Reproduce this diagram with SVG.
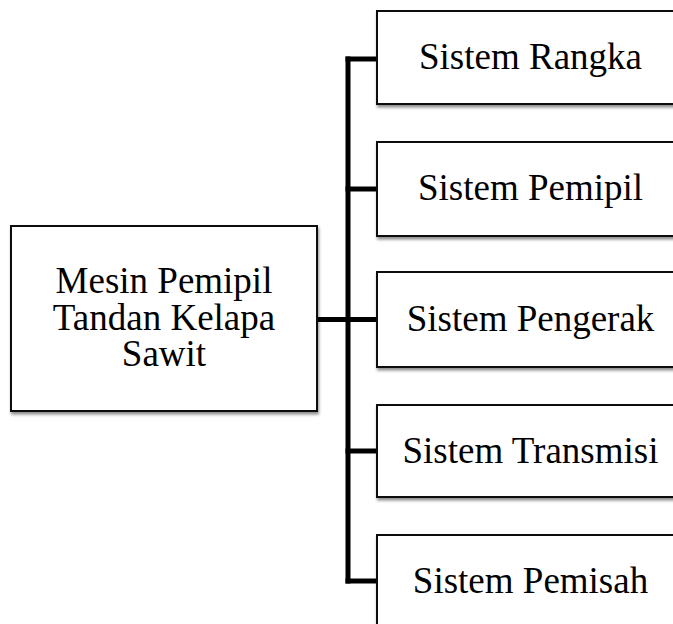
<svg xmlns="http://www.w3.org/2000/svg" width="673" height="624" viewBox="0 0 673 624">
<defs>
<filter id="sh" x="-10%" y="-10%" width="130%" height="130%">
<feDropShadow dx="1" dy="2.5" stdDeviation="1.5" flood-color="#000" flood-opacity="0.45"/>
</filter>
</defs>
<style>
.box{fill:#fff;stroke:#111;stroke-width:2;filter:url(#sh)}
.t{font-family:"Liberation Serif","Times New Roman",serif;font-size:37px;fill:#000;text-anchor:middle}
.c{stroke:#000;stroke-width:5;fill:none}
</style>
<rect width="673" height="624" fill="#fff"/>
<g id="connectors">
<line class="c" x1="317" y1="319.5" x2="377" y2="319.5"/>
<line class="c" x1="348" y1="56.5" x2="348" y2="583.5"/>
<line class="c" x1="345.5" y1="59" x2="377" y2="59"/>
<line class="c" x1="345.5" y1="189" x2="377" y2="189"/>
<line class="c" x1="345.5" y1="451" x2="377" y2="451"/>
<line class="c" x1="345.5" y1="581" x2="377" y2="581"/>
</g>
<g id="root">
<rect class="box" x="11" y="226" width="306" height="185"/>
<text class="t" x="164" y="293">Mesin Pemipil</text>
<text class="t" x="164" y="330">Tandan Kelapa</text>
<text class="t" x="164" y="366">Sawit</text>
</g>
<g id="rangka">
<rect class="box" x="377" y="11" width="310" height="93"/>
<text class="t" x="530.5" y="69">Sistem Rangka</text>
</g>
<g id="pemipil">
<rect class="box" x="377" y="142" width="310" height="94"/>
<text class="t" x="530.5" y="200">Sistem Pemipil</text>
</g>
<g id="pengerak">
<rect class="box" x="377" y="272" width="310" height="95"/>
<text class="t" x="530.5" y="331">Sistem Pengerak</text>
</g>
<g id="transmisi">
<rect class="box" x="377" y="405" width="310" height="92"/>
<text class="t" x="530.5" y="463">Sistem Transmisi</text>
</g>
<g id="pemisah">
<rect class="box" x="377" y="535" width="310" height="94"/>
<text class="t" x="530.5" y="593">Sistem Pemisah</text>
</g>
</svg>
